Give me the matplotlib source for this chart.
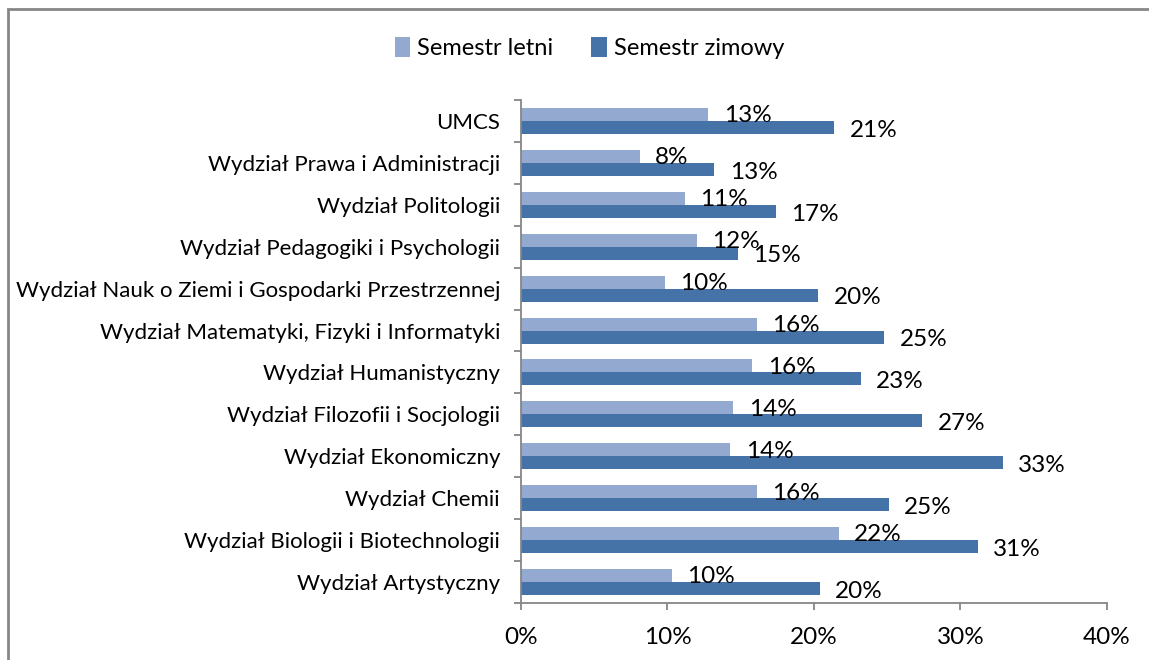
import matplotlib.pyplot as plt
from matplotlib.patches import Rectangle

categories = [
    "Wydział Artystyczny",
    "Wydział Biologii i Biotechnologii",
    "Wydział Chemii",
    "Wydział Ekonomiczny",
    "Wydział Filozofii i Socjologii",
    "Wydział Humanistyczny",
    "Wydział Matematyki, Fizyki i Informatyki",
    "Wydział Nauk o Ziemi i Gospodarki Przestrzennej",
    "Wydział Pedagogiki i Psychologii",
    "Wydział Politologii",
    "Wydział Prawa i Administracji",
    "UMCS",
]
letni = [10.3, 21.7, 16.1, 14.3, 14.5, 15.8, 16.1, 9.8, 12.0, 11.2, 8.1, 12.8]
zimowy = [20.4, 31.2, 25.1, 32.9, 27.4, 23.2, 24.8, 20.3, 14.8, 17.4, 13.2, 21.4]
xticks = [0, 10, 20, 30, 40]

plt.rcParams['font.family'] = ['Lato', 'DejaVu Sans']

light = '#93A9CF'
dark = '#4572A7'
grey = '#868686'

fig = plt.figure(figsize=(11.49, 6.6), dpi=100)
ax = fig.add_axes([0.4534, 0.0864, 0.51, 0.7621])

# frame around the chart area
fig.patches.append(Rectangle((8 / 1149, -0.1), 1.2, 1 - 9 / 660 + 0.1,
                             transform=fig.transFigure, fill=False,
                             edgecolor=grey, linewidth=2))

y = list(range(len(categories)))
h = 0.31
ax.barh([i + h / 2 for i in y], letni, height=h, color=light, label='Semestr letni')
ax.barh([i - h / 2 for i in y], zimowy, height=h, color=dark, label='Semestr zimowy')

for i in y:
    ax.annotate(f"{round(letni[i]):.0f}%", (letni[i], i + h / 2), xytext=(11, -1),
                textcoords='offset points', va='center', ha='left', fontsize=17.5)
    ax.annotate(f"{round(zimowy[i]):.0f}%", (zimowy[i], i - h / 2), xytext=(11, -2),
                textcoords='offset points', va='center', ha='left', fontsize=17.5)

ax.set_xlim(0, 40)
ax.set_ylim(-0.5, len(categories) - 0.5)
ax.set_xticks(xticks)
ax.set_xticklabels([f"{t}%" for t in xticks], fontsize=17.5)
ax.set_yticks(y)
ax.set_yticklabels(categories, fontsize=16)
ax.set_yticks([i - 0.5 for i in range(len(categories) + 1)], minor=True)
ax.tick_params(axis='y', which='major', length=0, pad=15)
ax.tick_params(axis='y', which='minor', length=5, color=grey, width=1.3)
ax.tick_params(axis='x', length=5, color=grey, width=1.3, pad=12)
for s in ['top', 'right']:
    ax.spines[s].set_visible(False)
for s in ['left', 'bottom']:
    ax.spines[s].set_color(grey)
    ax.spines[s].set_linewidth(1.3)

handles, labels = ax.get_legend_handles_labels()
fig.legend(handles, labels, loc='center', bbox_to_anchor=(0.513, 0.927), ncol=2,
           frameon=False, fontsize=17, handlelength=0.65, handleheight=0.9,
           handletextpad=0.3, columnspacing=1.6)

fig.savefig('out.png', dpi=100)
